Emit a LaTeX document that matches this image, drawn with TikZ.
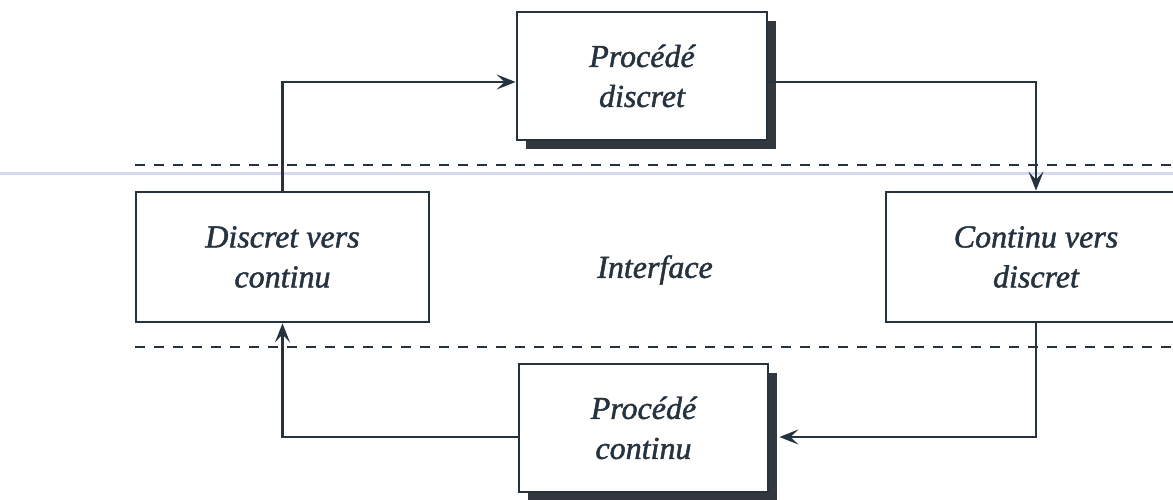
\documentclass[tikz,border=0pt]{standalone}
\usepackage{fontspec}
\setmainfont{Liberation Serif}
\newfontfamily\labelfont[FakeBold=1.4]{Liberation Serif}
\usetikzlibrary{arrows.meta,shadows}
\definecolor{ink}{RGB}{38,50,62}
\definecolor{shade}{RGB}{50,56,62}
\definecolor{rule}{RGB}{214,218,238}
\begin{document}
\begin{tikzpicture}[x=1pt,y=-1pt,
  txt/.style={text=ink,font=\labelfont\fontsize{32}{40}\selectfont\itshape},
  block/.style={txt,draw=ink,line width=2.8pt,fill=white,align=center,
    inner sep=0pt,minimum width=#1},
  block/.default=293pt,
  shadowed/.style={drop shadow={shadow xshift=9pt,shadow yshift=-9pt,
    fill=shade,opacity=1}},
  link/.style={draw=ink,line width=2.4pt,
    -{Stealth[length=19pt,width=15pt,inset=8pt]}},
  bound/.style={draw=ink,line width=2.8pt,dash pattern=on 10pt off 9pt}]
  \useasboundingbox[fill=white] (0,0) rectangle (1173,499);

  % faint horizontal rule running across the page
  \draw[rule,line width=3pt] (0,173) -- (1173,173);

  % interface limits
  \coordinate (b1l) at (135,165);
  \coordinate (b1r) at (1180,165);
  \coordinate (b2l) at (135,347);
  \coordinate (b2r) at (1180,347);
  \draw[bound] (b1l) -- (b1r);
  \draw[bound] (b2l) -- (b2r);

  % blocks
  \node[block=250pt,minimum height=128pt,shadowed] (pd) at (642,76)
    {Procédé\\discret};
  \node[block=293pt,minimum height=130pt] (dc) at (282.5,257)
    {Discret vers\\continu};
  \node[block=300pt,minimum height=130pt] (cd) at (1036,257)
    {Continu vers\\discret};
  \node[block=249pt,minimum height=128pt,shadowed] (pc) at (643.5,428)
    {Procédé\\continu};
  \node[txt] (itf) at (655,270) {Interface};

  % loop of connectors
  \draw[link] (dc.north) |- ([yshift=-6pt]pd.west);
  \draw[link] ([yshift=-6pt]pd.east) -| (cd.north);
  \draw[link] (cd.south) |- ([xshift=10pt,yshift=-9pt]pc.east);
  \draw[link] ([yshift=-9pt]pc.west) -| (dc.south);
\end{tikzpicture}
\end{document}
